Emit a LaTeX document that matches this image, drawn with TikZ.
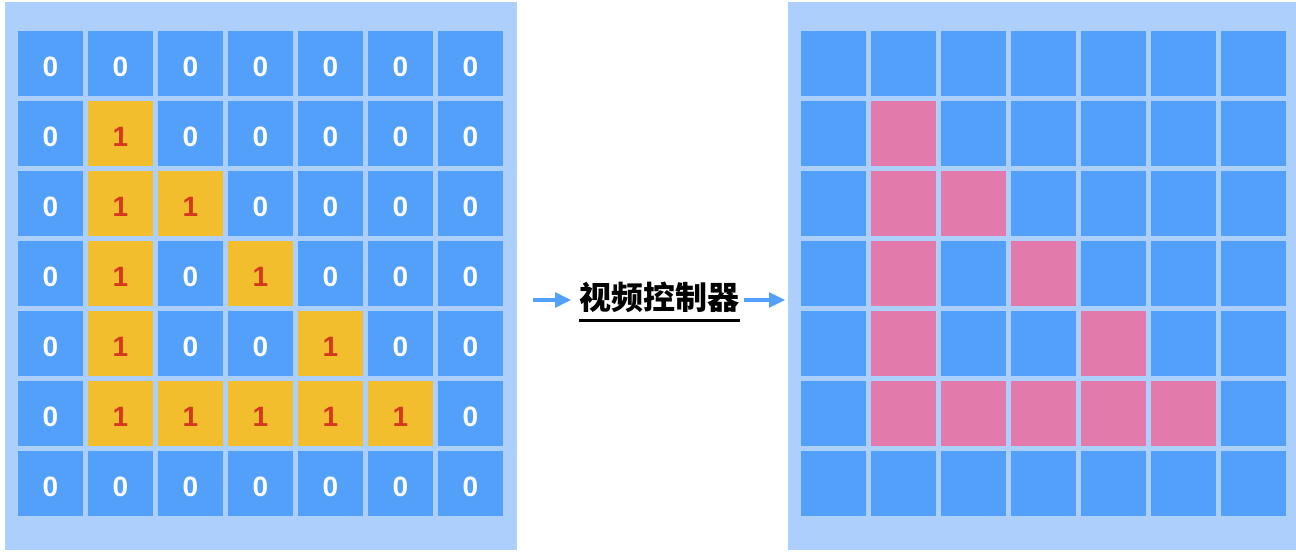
\documentclass[tikz,border=0pt]{standalone}
\usepackage{fontspec}
\setmainfont{Liberation Sans}
\newfontfamily\cjk{Noto Sans CJK SC}
\usetikzlibrary{arrows.meta}
\definecolor{panelbg}{RGB}{173,207,251}
\definecolor{cellblue}{RGB}{82,160,250}
\definecolor{cellyellow}{RGB}{242,190,45}
\definecolor{cellpink}{RGB}{226,123,172}
\definecolor{digitred}{RGB}{212,56,30}
\begin{document}
\begin{tikzpicture}
[x=0.75pt,y=-0.75pt,
 panel/.style={shape=rectangle,fill=panelbg,minimum width=384pt,minimum height=411pt,inner sep=0pt},%
 cell0/.style={shape=rectangle,fill=cellblue,minimum size=48.75pt,inner sep=0pt,text=white,
   text height=18.8pt,text depth=0pt,font=\fontsize{21}{21}\selectfont\bfseries},%
 cell1/.style={cell0,fill=cellyellow,text=digitred},%
 pix0/.style={shape=rectangle,fill=cellblue,minimum size=48.75pt,inner sep=0pt},%
 pix1/.style={pix0,fill=cellpink},%
 flow/.style={-{Triangle[length=12pt,width=11pt]},line width=2.4pt,draw=cellblue},%
 underline/.style={-,line width=1.8pt,draw=black}]
\useasboundingbox (0,0) rectangle (1296,556);
%% panels
\node (inpanel) at (261,276) [panel] {};
\node (outpanel) at (1044,276) [panel] {};
%% cells of both grids
\foreach \r/\row in {1/{0,0,0,0,0,0,0}, 2/{0,1,0,0,0,0,0}, 3/{0,1,1,0,0,0,0},
  4/{0,1,0,1,0,0,0}, 5/{0,1,0,0,1,0,0}, 6/{0,1,1,1,1,1,0}, 7/{0,0,0,0,0,0,0}} {
  \foreach \v [count=\c] in \row {
    \node (in-\r-\c) at ({50.5+70*(\c-1)},{63.5+70*(\r-1)}) [cell\v] {\v};
    \node (out-\r-\c) at ({833.5+70*(\c-1)},{63.5+70*(\r-1)}) [pix\v] {};
  }
}
%% controller label
\node (ctrl) at (659.5,297) [inner sep=0pt,font={\fontsize{24}{24}\selectfont\cjk\bfseries}] {视频控制器};
\draw[underline] ([yshift=-6pt]ctrl.south west) -- ([yshift=-6pt]ctrl.south east);
%% arrows
\coordinate (flowline) at (533,300);
\draw[flow,shorten <=12pt,shorten >=6pt] (flowline -| inpanel.east) -- (flowline -| ctrl.west);
\draw[flow,shorten <=3pt,shorten >=2pt] (flowline -| ctrl.east) -- (flowline -| outpanel.west);
\end{tikzpicture}
\end{document}
